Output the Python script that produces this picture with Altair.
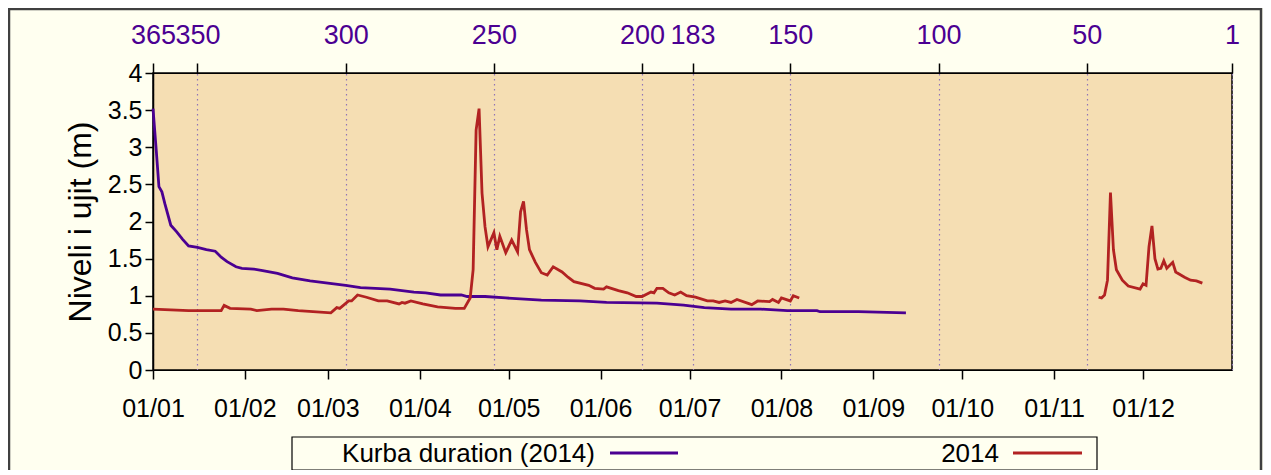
import altair as alt
import pandas as pd

# ---- data ----
obs_dates_1 = [
    "2014-01-01", "2014-01-13", "2014-01-24", "2014-01-25", "2014-01-27", "2014-02-03",
    "2014-02-05", "2014-02-10", "2014-02-14", "2014-02-19", "2014-03-02", "2014-03-04",
    "2014-03-05", "2014-03-08", "2014-03-09", "2014-03-11", "2014-03-14", "2014-03-18",
    "2014-03-21", "2014-03-25", "2014-03-26", "2014-03-27", "2014-03-29", "2014-04-02",
    "2014-04-07", "2014-04-13", "2014-04-16", "2014-04-18", "2014-04-19", "2014-04-20",
    "2014-04-21", "2014-04-22", "2014-04-23", "2014-04-24", "2014-04-26", "2014-04-27",
    "2014-04-28", "2014-04-30", "2014-05-02", "2014-05-04", "2014-05-05", "2014-05-06",
    "2014-05-07", "2014-05-08", "2014-05-10", "2014-05-12", "2014-05-14", "2014-05-16",
    "2014-05-19", "2014-05-21", "2014-05-23", "2014-05-28", "2014-05-30", "2014-06-02",
    "2014-06-03", "2014-06-07", "2014-06-10", "2014-06-13", "2014-06-15", "2014-06-18",
    "2014-06-19", "2014-06-20", "2014-06-22", "2014-06-24", "2014-06-26", "2014-06-28",
    "2014-06-30", "2014-07-03", "2014-07-07", "2014-07-09", "2014-07-11", "2014-07-13",
    "2014-07-15", "2014-07-17", "2014-07-22", "2014-07-24", "2014-07-28", "2014-07-29",
    "2014-07-31", "2014-08-01", "2014-08-04", "2014-08-05", "2014-08-07",
]
obs_values_1 = [
    0.82, 0.80, 0.80, 0.87, 0.83, 0.82,
    0.80, 0.82, 0.82, 0.80, 0.77, 0.84,
    0.83, 0.93, 0.93, 1.01, 0.98, 0.93,
    0.93, 0.89, 0.91, 0.90, 0.93, 0.89,
    0.85, 0.83, 0.83, 0.97, 1.35, 3.23,
    3.52, 2.38, 1.93, 1.66, 1.85, 1.62,
    1.80, 1.58, 1.75, 1.59, 2.13, 2.27,
    1.89, 1.62, 1.45, 1.31, 1.28, 1.39,
    1.32, 1.25, 1.19, 1.14, 1.10, 1.09,
    1.12, 1.07, 1.04, 0.99, 0.99, 1.05,
    1.04, 1.10, 1.10, 1.04, 1.01, 1.05,
    1.00, 0.98, 0.93, 0.93, 0.91, 0.93,
    0.91, 0.95, 0.88, 0.93, 0.92, 0.95,
    0.91, 0.97, 0.93, 1.00, 0.97,
]
obs_dates_2 = [
    "2014-11-16", "2014-11-17", "2014-11-18", "2014-11-19", "2014-11-20", "2014-11-21",
    "2014-11-22", "2014-11-24", "2014-11-26", "2014-11-30", "2014-12-01", "2014-12-02",
    "2014-12-03", "2014-12-04", "2014-12-05", "2014-12-06", "2014-12-07", "2014-12-08",
    "2014-12-09", "2014-12-11", "2014-12-12", "2014-12-15", "2014-12-17", "2014-12-19",
    "2014-12-21",
]
obs_values_2 = [
    0.98, 0.97, 1.01, 1.21, 2.39, 1.62,
    1.35, 1.21, 1.13, 1.09, 1.16, 1.14,
    1.66, 1.94, 1.50, 1.36, 1.37, 1.47,
    1.37, 1.45, 1.32, 1.25, 1.21, 1.20,
    1.17,
]

dur_rank = [365, 364, 363, 362, 361, 359, 357, 355, 353, 350, 347, 344, 342, 340,
            337, 335, 331, 328, 323, 318, 312, 306, 300, 295, 285, 277, 273, 268,
            261, 259, 253, 246, 234, 221, 212, 195, 186, 179, 170, 160, 151, 141,
            140, 127, 111]
dur_values = [3.52, 3.01, 2.47, 2.40, 2.24, 1.95, 1.86, 1.76, 1.67, 1.65, 1.62, 1.60, 1.52, 1.46,
              1.39, 1.37, 1.36, 1.34, 1.30, 1.24, 1.20, 1.17, 1.14, 1.11, 1.09, 1.05, 1.04, 1.01,
              1.01, 0.99, 0.99, 0.97, 0.94, 0.93, 0.91, 0.90, 0.875, 0.84, 0.82, 0.82, 0.80, 0.80,
              0.785, 0.785, 0.77]

series_names = ["Kurba duration (2014)", "2014"]
series_colors = ["#4B0092", "#B22222"]

top_ticks = [365, 350, 300, 250, 200, 183, 150, 100, 50, 1]
y_ticks = [0, 0.5, 1, 1.5, 2, 2.5, 3, 3.5, 4]
y_title = "Niveli i ujit (m)"

FONT = "Liberation Sans"

obs = pd.DataFrame({
    "date": pd.to_datetime(obs_dates_1 + obs_dates_2),
    "value": obs_values_1 + obs_values_2,
    "segment": ["a"] * len(obs_dates_1) + ["b"] * len(obs_dates_2),
})
dur = pd.DataFrame({"rank": dur_rank, "value": dur_values})

month_ticks = [alt.DateTime(year=2014, month=m, date=1) for m in range(1, 13)]

yscale = alt.Scale(domain=[0, 4], nice=False, zero=True)
yaxis = alt.Axis(values=y_ticks, format="~g", title=y_title, grid=False,
                 labelFontSize=25, labelFont=FONT, labelColor="black", labelOverlap=False,
                 titleFontSize=32, titleFont=FONT, titleFontWeight="normal", titleColor="black",
                 titlePadding=10, tickSize=8, tickColor="black", domainColor="black",
                 labelPadding=3, tickWidth=1.5, domainWidth=1.5)

dur_line = alt.Chart(dur).mark_line(color=series_colors[0], strokeWidth=2.8).encode(
    x=alt.X("rank:Q",
            scale=alt.Scale(domain=[365, 1], nice=False, zero=False),
            axis=alt.Axis(orient="top", values=top_ticks, format="d", title=None,
                          labelFontSize=27, labelFont=FONT, labelColor="#4B0092",
                          labelPadding=14, tickSize=10, tickColor="black", tickWidth=1.5,
                          domainColor="black", labelOverlap=False, labelFlush=False,
                          grid=True, gridColor="#8F74B8", gridDash=[1.5, 3.5], gridWidth=1.2)),
    y=alt.Y("value:Q", scale=yscale, axis=yaxis),
)

obs_line = alt.Chart(obs).mark_line(color=series_colors[1], strokeWidth=2.8).encode(
    x=alt.X("date:T",
            scale=alt.Scale(domain=[alt.DateTime(year=2014, month=1, date=1),
                                    alt.DateTime(year=2014, month=12, date=31)], nice=False),
            axis=alt.Axis(orient="bottom", values=month_ticks, format="%d/%m", title=None,
                          labelFontSize=25, labelFont=FONT, labelColor="black",
                          labelPadding=17, tickSize=9, tickColor="black", tickWidth=1.5,
                          domainColor="black", labelOverlap=False, labelFlush=False, grid=False)),
    y=alt.Y("value:Q", scale=yscale, axis=yaxis),
    detail="segment:N",
)

lines = alt.layer(dur_line, obs_line).resolve_scale(x="independent")

# ---- legend box (drawn manually to keep label-before-sample order) ----
leg_df = pd.DataFrame({"name": series_names, "color": series_colors})
leg_box = alt.Chart(leg_df.iloc[:1]).mark_rect(
    fill="#FFFFF0", stroke="black", strokeWidth=1.2).encode(
    x=alt.value(139), x2=alt.value(944), y=alt.value(364), y2=alt.value(397))
leg_t1 = alt.Chart(leg_df.iloc[:1]).mark_text(
    align="right", baseline="middle", fontSize=26, font=FONT, color="black").encode(
    text="name:N", x=alt.value(442), y=alt.value(381))
leg_r1 = alt.Chart(leg_df.iloc[:1]).mark_rule(color=series_colors[0], strokeWidth=2.8).encode(
    x=alt.value(457), x2=alt.value(525), y=alt.value(380))
leg_t2 = alt.Chart(leg_df.iloc[1:]).mark_text(
    align="right", baseline="middle", fontSize=26, font=FONT, color="black").encode(
    text="name:N", x=alt.value(846), y=alt.value(381))
leg_r2 = alt.Chart(leg_df.iloc[1:]).mark_rule(color=series_colors[1], strokeWidth=2.8).encode(
    x=alt.value(860), x2=alt.value(929), y=alt.value(380))
frame = alt.Chart(leg_df.iloc[:1]).mark_rect(
    fill=None, stroke="#404040", strokeWidth=2.5).encode(
    x=alt.value(-144), x2=alt.value(1108), y=alt.value(-64), y2=alt.value(420))

chart = alt.layer(lines, leg_box, leg_t1, leg_r1, leg_t2, leg_r2, frame).properties(
    width=1079, height=297,
    padding={"left": 145, "top": 65, "right": 31, "bottom": 100},
    autosize=alt.AutoSizeParams(type="none"),
    background="#FFFFF0",
).configure_view(fill="#F5DEB3", stroke="black", strokeWidth=1.5)

chart.save("out.html", embed_options={"renderer": "svg", "actions": False})
